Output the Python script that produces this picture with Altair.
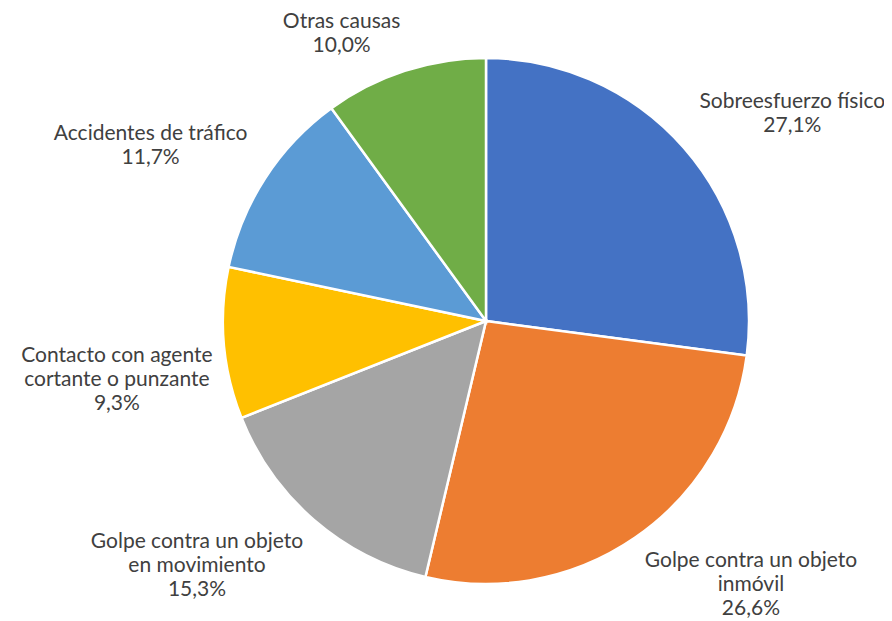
import altair as alt
import pandas as pd

categories = [
    "Sobreesfuerzo físico",
    "Golpe contra un objeto inmóvil",
    "Golpe contra un objeto en movimiento",
    "Contacto con agente cortante o punzante",
    "Accidentes de tráfico",
    "Otras causas",
]
label_text = [
    "Sobreesfuerzo físico",
    "Golpe contra un objeto\ninmóvil",
    "Golpe contra un objeto\nen movimiento",
    "Contacto con agente\ncortante o punzante",
    "Accidentes de tráfico",
    "Otras causas",
]
values = [27.1, 26.6, 15.3, 9.3, 11.7, 10.0]
colors = ["#4472C4", "#ED7D31", "#A5A5A5", "#FFC000", "#5B9BD5", "#70AD47"]

FONT = "Lato"
FONT_SIZE = 21
LINE_H = 24
CHAR_W = 9.8

rows = []
for i, (c, lt, v) in enumerate(zip(categories, label_text, values)):
    full = lt + "\n" + f"{v:.1f}".replace(".", ",") + "%"
    lines = full.split("\n")
    rows.append({
        "idx": i,
        "cat": c,
        "value": v,
        "label": full,
        "hw": max(len(s) for s in lines) * CHAR_W / 2,
        "hh": len(lines) * LINE_H / 2,
        "off": (len(lines) - 1) * LINE_H / 2,
    })
df = pd.DataFrame(rows)

base = alt.Chart(df)

pie = base.mark_arc(radius=263, stroke="white", strokeWidth=2.5).encode(
    theta=alt.Theta("value:Q", stack=True),
    color=alt.Color("cat:N", scale=alt.Scale(domain=categories, range=colors), legend=None),
    order=alt.Order("idx:Q"),
)

labels = base.transform_window(
    cum="sum(value)", sort=[alt.SortField("idx")]
).transform_joinaggregate(
    total="sum(value)"
).transform_calculate(
    mid="2*PI*(datum.cum - datum.value/2)/datum.total",
).transform_calculate(
    sx="sin(datum.mid) >= 0 ? 1 : -1",
    sy="cos(datum.mid) >= 0 ? -1 : 1",
).mark_text(
    radius=277,
    font=FONT,
    fontSize=FONT_SIZE,
    lineHeight=LINE_H,
    lineBreak="\n",
    color="#404040",
    align="center",
    baseline="middle",
    dx=alt.ExprRef(expr="datum.sx * datum.hw"),
    dy=alt.ExprRef(expr="datum.sy * datum.hh - datum.off"),
).encode(
    theta=alt.Theta("value:Q", stack=True),
    order=alt.Order("idx:Q"),
    text="label:N",
)

chart = alt.layer(pie, labels).properties(
    width=796,
    height=584,
    padding={"left": 80, "top": 21, "right": 0, "bottom": 8},
    autosize=alt.AutoSizeParams(type="none"),
).configure_view(stroke=None)

chart.save("out.html", embed_options={"renderer": "svg", "actions": False})
